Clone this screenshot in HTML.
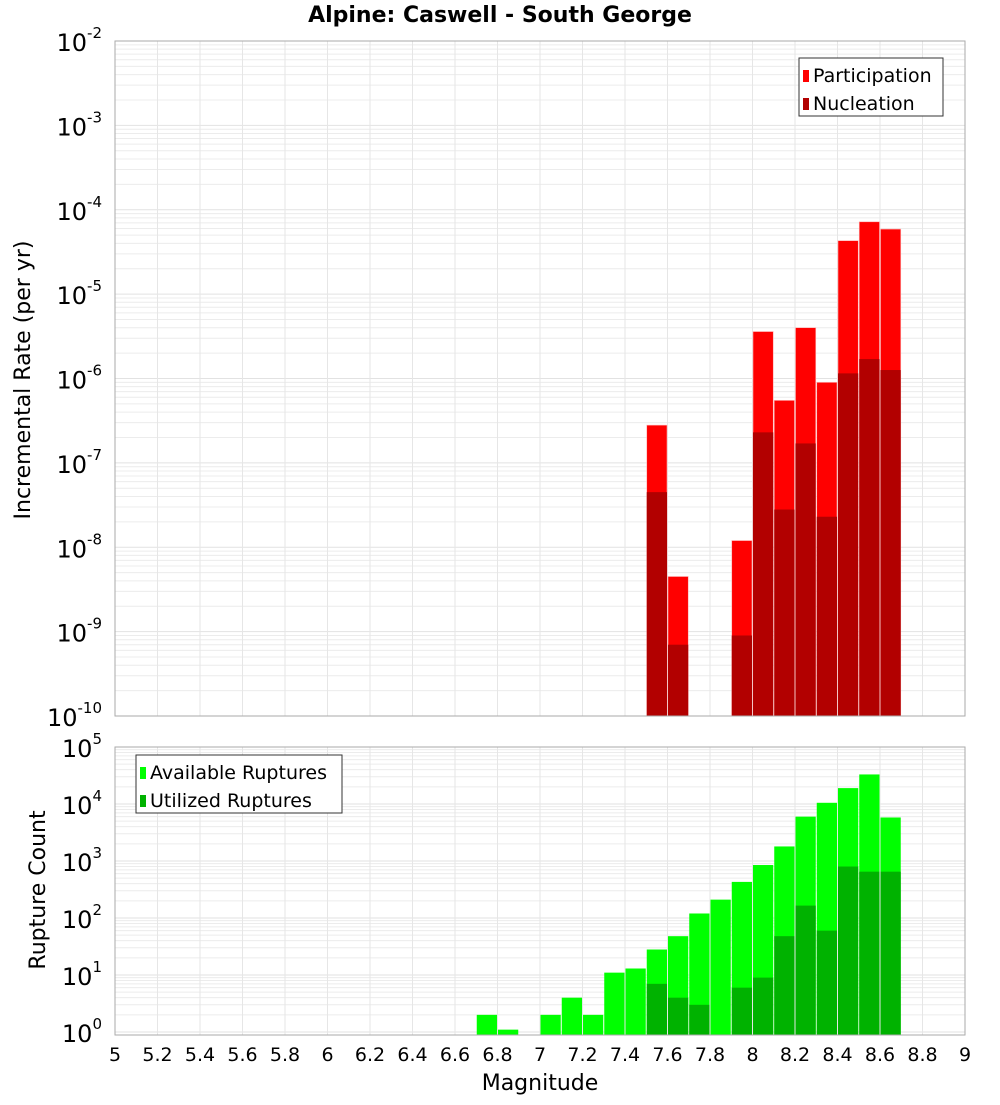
<!DOCTYPE html>
<html><head><meta charset="utf-8"><style>
body{margin:0;background:#fff;font-family:"Liberation Sans","DejaVu Sans",sans-serif}
svg text{font-family:"DejaVu Sans","Liberation Sans",sans-serif}
</style></head><body>
<svg id="c" width="1000" height="1100" xmlns="http://www.w3.org/2000/svg">
<text x="500" y="22" text-anchor="middle" font-size="22" font-weight="bold">Alpine: Caswell - South George</text>
<g id="topPanel"></g>
<g id="botPanel"></g>
<text x="30" y="380" transform="rotate(-90 30 380)" text-anchor="middle" font-size="22">Incremental Rate (per yr)</text>
<text x="45" y="890" transform="rotate(-90 45 890)" text-anchor="middle" font-size="22">Rupture Count</text>
<text x="540" y="1090" text-anchor="middle" font-size="22">Magnitude</text>
</svg>
<script>
const mags=[6.75,6.85,7.05,7.15,7.25,7.35,7.45,7.55,7.65,7.75,7.85,7.95,8.05,8.15,8.25,8.35,8.45,8.55,8.65];
const available=[2,1.1,2,4,2,11,13,28,48,120,210,430,850,1800,6000,10500,19000,33000,5800];
const utilized=[0,0,0,0,0,0,0,7,4,3,0,6,9,48,165,60,800,650,650];
const rateMags=[7.55,7.65,7.95,8.05,8.15,8.25,8.35,8.45,8.55,8.65];
const participation=[2.8e-7,4.5e-9,1.2e-8,3.6e-6,5.5e-7,4e-6,9e-7,4.3e-5,7.2e-5,5.9e-5];
const nucleation=[4.5e-8,7e-10,9e-10,2.3e-7,2.8e-8,1.7e-7,2.3e-8,1.15e-6,1.7e-6,1.26e-6];
const xTicks=[5,5.2,5.4,5.6,5.8,6,6.2,6.4,6.6,6.8,7,7.2,7.4,7.6,7.8,8,8.2,8.4,8.6,8.8,9];
const NS="http://www.w3.org/2000/svg";
const X0=115,X1=965;
const xs=m=>X0+(m-5)/4*(X1-X0);
const yTop=l=>41+(-2-l)*84.375;
const yBot=l=>747+(5-l)*57;
function mk(p,t,a){const e=document.createElementNS(NS,t);for(const k in a)e.setAttribute(k,a[k]);p.appendChild(e);return e;}
function panel(g,yf,lo,hi,y0,y1,name){
  mk(g,'rect',{x:X0,y:y0,width:X1-X0,height:y1-y0,fill:'#fff'});
  for(let d=lo;d<hi;d++)for(let k=1;k<10;k++){const y=yf(d+Math.log10(k));if(y<y0||y>y1)continue;
    const l=mk(g,'line',{x1:X0,x2:X1,y1:y,y2:y,stroke:k==1?'#e2e2e2':'#ececec','stroke-width':1});
    
    }
  xTicks.forEach(t=>{const l=mk(g,'line',{x1:xs(t),x2:xs(t),y1:y0,y2:y1,stroke:'#e6e6e6'});
    
    });
  for(let d=lo;d<=hi;d++){const y=yf(d);const t=mk(g,'text',{x:102,y:y+10,'text-anchor':'end','font-size':24});
    t.textContent='10';const s=mk(t,'tspan',{dy:-13,'font-size':15});s.textContent=String(d);
    
    }
}
const topG=document.getElementById('topPanel'),botG=document.getElementById('botPanel');
panel(topG,yTop,-10,-2,41,716,'rate');
panel(botG,yBot,0,5,747,1035,'count');
const bw=(X1-X0)/40;
rateMags.forEach((m,i)=>{
  const x=xs(m)-bw/2;
  let y=yTop(Math.log10(participation[i]));
  let r=mk(topG,'rect',{x:x+0.5,y:y,width:bw-1,height:716-y,fill:'#ff0000',stroke:'#ffb0b0','stroke-width':0.6});
  
  
  y=yTop(Math.log10(nucleation[i]));
  r=mk(topG,'rect',{x:x+0.5,y:y,width:bw-1,height:716-y,fill:'#b20000'});
  
  
});
mags.forEach((m,i)=>{
  const x=xs(m)-bw/2;
  let y=yBot(Math.log10(available[i]));
  let r=mk(botG,'rect',{x:x+0.5,y:y,width:bw-1,height:1035-y,fill:'#00ff00'});
  
  
  if(utilized[i]>0){y=yBot(Math.log10(utilized[i]));
  r=mk(botG,'rect',{x:x+0.5,y:y,width:bw-1,height:1035-y,fill:'#00b200'});
  
  }
});
[[topG,41,716],[botG,747,1035]].forEach(([g,a,b])=>{const f=mk(g,'rect',{x:X0,y:a,width:X1-X0,height:b-a,fill:'none',stroke:'#aaa'});
  
  });
xTicks.forEach(t=>{const e=mk(botG,'text',{x:xs(t),y:1061,'text-anchor':'middle','font-size':19});e.textContent=String(t);
  
  });
function legend(g,x,y,w,items){const b=mk(g,'rect',{x:x,y:y,width:w,height:58,fill:'#fff',stroke:'#333'});
  
  
  items.forEach(([c,l],i)=>{mk(g,'rect',{x:x+4,y:y+12+i*28,width:6,height:12,fill:c});
    const t=mk(g,'text',{x:x+14,y:y+24+i*28,'font-size':19});t.textContent=l;
    
    });}
legend(topG,799,58,144,[['#ff0000','Participation'],['#b20000','Nucleation']]);
legend(botG,136,755,206,[['#00ff00','Available Ruptures'],['#00b200','Utilized Ruptures']]);
</script>
</body></html>
